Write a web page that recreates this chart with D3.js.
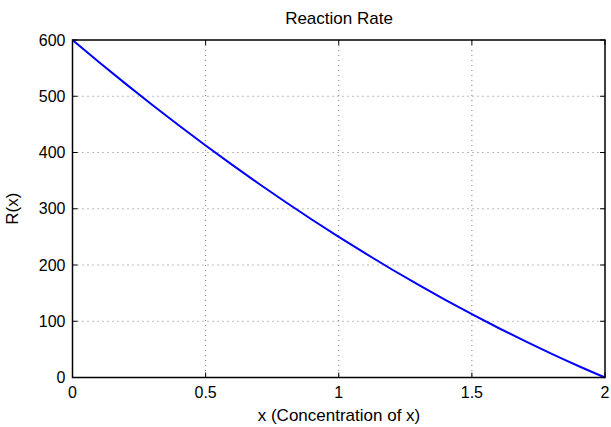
<!DOCTYPE html>
<html><head><meta charset="utf-8">
<script src="https://cdn.jsdelivr.net/npm/d3@7"></script>
<style>body{margin:0;background:#fff;}svg{display:block;font-family:"Liberation Sans",Arial,sans-serif;}</style>
</head><body><svg id="c" width="611" height="427"></svg>
<script>
const xVals = [0,0.1,0.2,0.3,0.4,0.5,0.6,0.7,0.8,0.9,1.0,1.1,1.2,1.3,1.4,1.5,1.6,1.7,1.8,1.9,2.0];
const rVals = [600,560.5,522,484.5,448,412.5,378,344.5,312,280.5,250,220.5,192,164.5,138,112.5,88,64.5,42,20.5,0];
const xTicks = [0,0.5,1,1.5,2];
const yTicks = [0,100,200,300,400,500,600];
const title = "Reaction Rate", xLabel = "x (Concentration of x)", yLabel = "R(x)";

const svg = d3.select("#c");
const L=72.5, R=605, T=40, B=377.5;
const x = d3.scaleLinear().domain([0,2]).range([L,R]);
const y = d3.scaleLinear().domain([0,600]).range([B,T]);

// grid
const g = svg.append("g");
g.selectAll(".gx").data(xTicks.slice(1,-1)).join("line")
 .attr("x1",d=>x(d)).attr("x2",d=>x(d)).attr("y1",T).attr("y2",B)
 .attr("stroke","#7a7a7a").attr("stroke-width",1).attr("stroke-dasharray","1,4");
g.selectAll(".gy").data(yTicks.slice(1,-1)).join("line")
 .attr("y1",d=>y(d)).attr("y2",d=>y(d)).attr("x1",L).attr("x2",R)
 .attr("stroke","#7a7a7a").attr("stroke-width",1).attr("stroke-dasharray","1,4");

// ticks inward on all sides
const tl=5;
const tk = svg.append("g").attr("stroke","#000").attr("stroke-width",1);
xTicks.forEach(d=>{
  tk.append("line").attr("x1",x(d)).attr("x2",x(d)).attr("y1",B).attr("y2",B-tl);
  tk.append("line").attr("x1",x(d)).attr("x2",x(d)).attr("y1",T).attr("y2",T+tl);
});
yTicks.forEach(d=>{
  tk.append("line").attr("y1",y(d)).attr("y2",y(d)).attr("x1",L).attr("x2",L+tl);
  tk.append("line").attr("y1",y(d)).attr("y2",y(d)).attr("x1",R).attr("x2",R-tl);
});

// line
const line = d3.line().x((d,i)=>x(xVals[i])).y(d=>y(d)).curve(d3.curveMonotoneX);
svg.append("path").datum(rVals).attr("d",line).attr("fill","none").attr("stroke","#0000ff").attr("stroke-width",2);

// box
svg.append("rect").attr("x",L).attr("y",T).attr("width",R-L).attr("height",B-T)
 .attr("fill","none").attr("stroke","#000").attr("stroke-width",1.5);

// labels
const fs=16, fl=17;
svg.selectAll(".xt").data(xTicks).join("text").attr("x",d=>x(d)).attr("y",B+20.5)
 .attr("text-anchor","middle").attr("font-size",fs).text(d=>d);
svg.selectAll(".yt").data(yTicks).join("text").attr("x",L-7).attr("y",d=>y(d)+5.7)
 .attr("text-anchor","end").attr("font-size",fs).text(d=>d);
svg.append("text").attr("x",339).attr("y",24).attr("text-anchor","middle").attr("font-size",fl).text(title);
svg.append("text").attr("x",339).attr("y",421).attr("text-anchor","middle").attr("font-size",fl).text(xLabel);
svg.append("text").attr("transform",`translate(18,${(T+B)/2}) rotate(-90)`).attr("text-anchor","middle").attr("font-size",fl).text(yLabel);
</script></body></html>
